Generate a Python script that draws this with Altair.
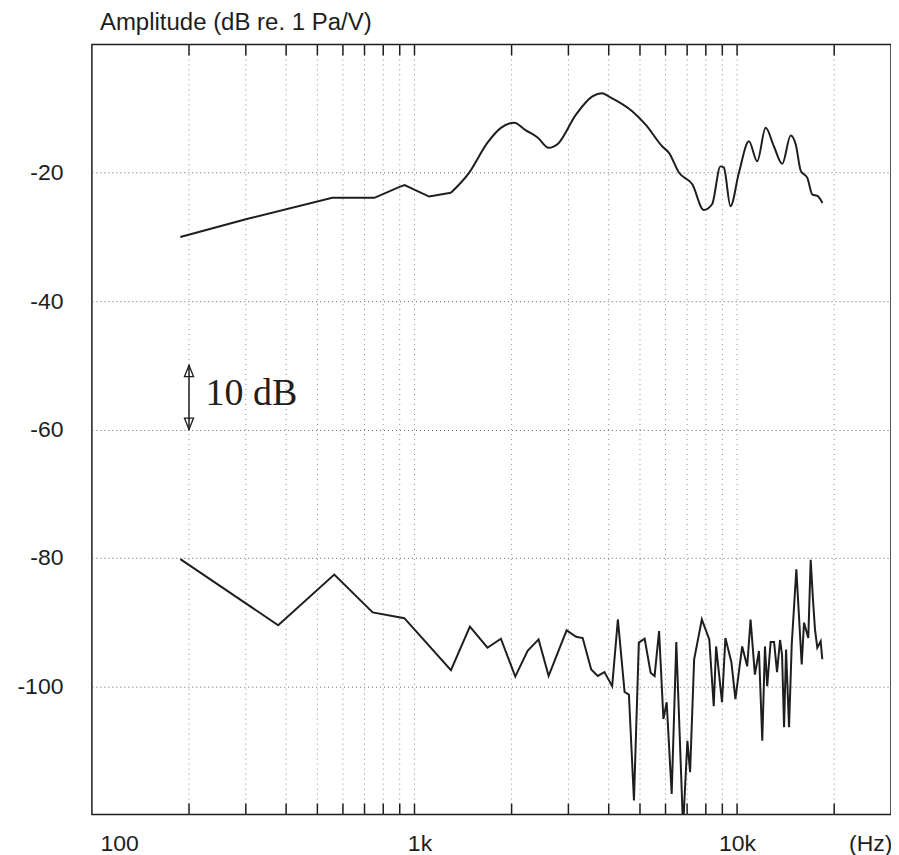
import altair as alt
import pandas as pd

# ---- data ----
upper_freq = [188, 302, 556, 751, 899, 932, 1110, 1297, 1476, 1684, 1853, 2038, 2215, 2408, 2605,
              2779, 3170, 3560, 3815, 4000, 4730, 5207, 5864, 6150, 6610, 7265, 7880, 8365,
              8880, 9100, 9540, 10130, 10880, 11545, 12260, 13010, 13800, 14665, 15200,
              15760, 16510, 17115, 17740, 18390]
upper_db = [-30.0, -27.2, -23.9, -23.9, -22.2, -21.9, -23.7, -23.1, -20.0, -15.3, -13.0, -12.2, -13.4,
            -14.5, -16.1, -15.5, -10.9, -8.1, -7.6, -8.1, -10.4, -12.5, -15.9, -16.9, -20.0,
            -21.8, -25.8, -24.9, -19.0, -19.2, -25.2, -20.0, -15.1, -18.2, -13.0, -15.9, -18.6,
            -14.2, -15.6, -19.7, -20.8, -23.4, -23.6, -24.7]
upper_split = 8  # first points form straight segments, the rest a smooth curve

lower_freq = [188, 378, 564, 742, 930, 1297, 1485, 1684, 1853, 2053, 2242, 2425, 2605, 2962,
              3170, 3322, 3530, 3700, 3880, 4100, 4270, 4480, 4620, 4790, 4960, 5170, 5395,
              5550, 5730, 5910, 6050, 6270, 6480, 6800, 7015, 7150, 7360, 7775, 8200, 8465,
              8610, 8980, 9200, 9605, 9880, 10370, 10750, 11010, 11355, 11690, 11970, 12200,
              12400, 12705, 13020, 13300, 13590, 13785, 13984, 14185, 14490, 14770, 15265,
              15860, 16125, 16625, 16910, 17190, 17440, 17730, 18160, 18370]
lower_db = [-80.2, -90.5, -82.6, -88.5, -89.4, -97.5, -90.7, -94.0, -92.6, -98.5, -94.5, -92.7,
            -98.4, -91.3, -92.3, -92.5, -97.4, -98.4, -97.8, -100.0, -89.6, -100.9, -101.3,
            -117.8, -93.2, -92.6, -97.9, -98.4, -91.4, -105.1, -102.5, -116.8, -93.1, -122.0,
            -108.5, -113.4, -95.8, -89.6, -92.7, -103.1, -93.8, -102.5, -92.5, -96.3, -102.0,
            -93.8, -96.9, -89.6, -98.2, -94.5, -108.5, -93.8, -100.0, -93.1, -93.1, -97.8,
            -92.8, -95.1, -106.4, -94.3, -106.4, -93.5, -81.8, -96.6, -90.1, -92.5, -80.3,
            -86.5, -91.2, -94.0, -93.0, -95.8]

grid_freq = [200, 300, 400, 500, 600, 700, 800, 900, 1000,
             2000, 3000, 4000, 5000, 6000, 7000, 8000, 9000, 10000, 20000]
y_tick_values = [-100, -80, -60, -40, -20]
x_label_values = [100, 1000, 10000, 30000]
x_label_text = ["100", "1k", "10k", "(Hz)"]
x_label_shift = [8, 5, 0, 1]

arrow_freq = [200]
arrow_top = [-50]
arrow_bottom = [-60]
note_freq = [225]
note_db = [-54.5]
note_text = ["10 dB"]

title_text = ["Amplitude (dB re. 1 Pa/V)"]

# ---- chart ----
W, H = 800, 771
FONT = "Liberation Sans"
INK = "#1e1e1e"
LABEL_SIZE = 23

xscale = alt.Scale(type="log", domain=[100, 30000])
yscale = alt.Scale(domain=[-120, 0])

label_expr = " : ".join(
    f"datum.value == {v} ? '{t}'" for v, t in zip(x_label_values, x_label_text)
) + " : ''"
offset_expr = " : ".join(
    f"datum.value == {v} ? {s}" for v, s in zip(x_label_values, x_label_shift)
) + " : 0"
align_expr = (f"datum.value == {x_label_values[0]} ? 'left' : "
              f"datum.value == {x_label_values[-1]} ? 'right' : 'center'")

x_axis = alt.Axis(values=x_label_values, labelExpr=label_expr, grid=False, ticks=False,
                  domain=False, labelPadding=18, labelFontSize=LABEL_SIZE, labelFont=FONT,
                  labelColor=INK, labelOverlap=False, labelBound=False, labelFlush=False,
                  labelAlign={"expr": align_expr}, labelOffset={"expr": offset_expr},
                  title=None)
y_axis = alt.Axis(values=y_tick_values, grid=True, gridDash=[1, 3], gridColor="#666",
                  gridWidth=1, ticks=False, domain=False, labelPadding=29,
                  labelFontSize=LABEL_SIZE, labelFont=FONT, labelColor=INK, title=None,
                  labelExpr="(datum.value < 0 ? '-' : '') + abs(datum.value)")

upper_df = pd.DataFrame({"freq": upper_freq, "db": upper_db})
upper_lo = upper_df.iloc[:upper_split]
upper_hi = upper_df.iloc[upper_split - 1:]
lower_df = pd.DataFrame({"freq": lower_freq, "db": lower_db})
grid_df = pd.DataFrame({"freq": grid_freq})
arrow_df = pd.DataFrame({"freq": arrow_freq, "top": arrow_top, "bottom": arrow_bottom})
note_df = pd.DataFrame({"freq": note_freq, "db": note_db, "text": note_text})
title_df = pd.DataFrame({"text": title_text})

X = lambda f="freq": alt.X(f"{f}:Q", scale=xscale, axis=x_axis)
Y = lambda f="db": alt.Y(f"{f}:Q", scale=yscale, axis=y_axis)

vgrid = alt.Chart(grid_df).mark_rule(color="#888", strokeWidth=1, strokeDash=[1, 4]).encode(
    x=X(), y=alt.value(0), y2=alt.value(H))
top_ticks = alt.Chart(grid_df).mark_rule(color=INK, strokeWidth=1.5).encode(
    x=X(), y=alt.value(0), y2=alt.value(11))
bot_ticks = alt.Chart(grid_df).mark_rule(color=INK, strokeWidth=1.5).encode(
    x=X(), y=alt.value(H - 11), y2=alt.value(H))

upper1 = alt.Chart(upper_lo).mark_line(color=INK, strokeWidth=2, clip=True).encode(x=X(), y=Y())
upper2 = alt.Chart(upper_hi).mark_line(color=INK, strokeWidth=2, interpolate="monotone",
                                       clip=True).encode(x=X(), y=Y())
lower = alt.Chart(lower_df).mark_line(color=INK, strokeWidth=2, clip=True).encode(
    x=X(), y=Y())

shaft = alt.Chart(arrow_df).mark_rule(color=INK, strokeWidth=1.5).encode(
    x=X(), y=Y("top"), y2="bottom:Q")
head_top = alt.Chart(arrow_df).mark_point(shape="M0,0L-0.4,1L0.4,1Z", size=520, filled=False,
                                          color=INK, strokeWidth=1.3, opacity=1).encode(
    x=X(), y=Y("top"))
head_bot = alt.Chart(arrow_df).mark_point(shape="M0,0L-0.4,-1L0.4,-1Z", size=520, filled=False,
                                          color=INK, strokeWidth=1.3, opacity=1).encode(
    x=X(), y=Y("bottom"))
note = alt.Chart(note_df).mark_text(font="Liberation Serif", fontSize=38, align="left",
                                    baseline="middle", color=INK).encode(
    x=X(), y=Y(), text="text:N")
title = alt.Chart(title_df).mark_text(font=FONT, fontSize=24, align="left",
                                      baseline="alphabetic", color=INK).encode(
    x=alt.value(8), y=alt.value(-14), text="text:N")

chart = alt.layer(vgrid, top_ticks, bot_ticks, upper1, upper2, lower, shaft, head_top,
                  head_bot, note, title).properties(
    width=W, height=H,
    autosize="none",
    padding={"left": 84, "top": 36, "right": 0, "bottom": 40},
).configure(background="white").configure_view(stroke=INK, strokeWidth=1.5)

chart.save("out.html", embed_options={"renderer": "svg", "actions": False})
